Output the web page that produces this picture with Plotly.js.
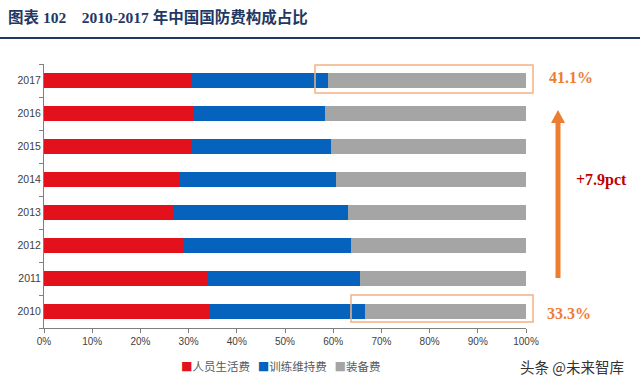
<!DOCTYPE html>
<html><head><meta charset="utf-8">
<script src="https://cdn.plot.ly/plotly-3.0.1.min.js"></script>
<style>html,body{margin:0;padding:0;background:#fff}#chart{width:640px;height:388px}</style>
</head><body><div id="chart"></div>
<script>
const years = ['2010','2011','2012','2013','2014','2015','2016','2017'];
const personnel = [34.4, 34.1, 29.1, 26.8, 28.3, 30.7, 31.0, 30.5];
const training  = [32.3, 31.4, 34.6, 36.3, 32.3, 28.8, 27.4, 28.4];
const equipment = [33.3, 34.5, 36.3, 36.9, 39.4, 40.5, 41.6, 41.1];
const seriesNames = ['人员生活费', '训练维持费', '装备费'];
const xTicks = [0,10,20,30,40,50,60,70,80,90,100];
const xTickText = xTicks.map(v => v + '%');

const L = 44, R = 526, T = 64, B = 328;
const px = v => (v - L) / (R - L);
const py = v => (B - v) / (B - T);

const colors = ['#E3111B', '#0562BD', '#A5A5A5'];
const vals = [personnel, training, equipment];
const traces = vals.map((arr, i) => ({
  type: 'bar', orientation: 'h', name: seriesNames[i],
  x: arr, y: years, width: 0.46,
  marker: {color: colors[i], line: {width: 0}},
  hoverinfo: 'skip', showlegend: false
}));

const legendText = seriesNames.map((n, i) =>
  `<span style="color:${colors[i]}">■</span>${n}`).join('   ');

const orange = '#ED7D31';
const cjk = 'Noto Sans CJK SC, sans-serif';
const layout = {
  width: 640, height: 388,
  margin: {l: L, r: 640 - R, t: T, b: 388 - B},
  paper_bgcolor: '#fff', plot_bgcolor: '#fff',
  barmode: 'stack', bargap: 0.5,
  showlegend: false,
  title: {
    text: '<b>图表 102　2010-2017 年中国国防费构成占比</b>',
    x: 8/640, xanchor: 'left', xref: 'container',
    y: 1 - 18/388, yanchor: 'middle', yref: 'container',
    font: {family: 'Liberation Serif, Noto Sans CJK SC, serif', size: 15.5, color: '#1F3864'}
  },
  xaxis: {
    range: [0, 100], tickvals: xTicks, ticktext: xTickText,
    showgrid: false, zeroline: false,
    showline: true, linecolor: '#7F7F7F', linewidth: 1,
    ticks: 'outside', ticklen: 4, tickcolor: '#7F7F7F',
    tickfont: {family: 'Liberation Sans, sans-serif', size: 10, color: '#404040'},
    fixedrange: true
  },
  yaxis: {
    type: 'category', categoryorder: 'array', categoryarray: years,
    range: [-0.5, 7.5],
    showgrid: false, zeroline: false,
    showline: true, linecolor: '#7F7F7F', linewidth: 1,
    ticks: 'outside', ticklen: 4, tickcolor: '#7F7F7F', tickson: 'boundaries',
    tickfont: {family: 'Liberation Sans, sans-serif', size: 10.5, color: '#404040'},
    fixedrange: true
  },
  shapes: [
    {type: 'line', xref: 'paper', yref: 'paper', x0: px(0), x1: px(640), y0: py(38), y1: py(38),
     line: {color: '#1F3864', width: 2}},
    {type: 'rect', xref: 'paper', yref: 'paper', x0: px(315), x1: px(533), y0: py(65), y1: py(93),
     line: {color: '#F4B183', width: 1.5}, fillcolor: 'rgba(0,0,0,0)'},
    {type: 'rect', xref: 'paper', yref: 'paper', x0: px(351), x1: px(533), y0: py(295), y1: py(322),
     line: {color: '#F4B183', width: 1.5}, fillcolor: 'rgba(0,0,0,0)'},
    {type: 'line', xref: 'paper', yref: 'paper', x0: px(558), x1: px(558), y0: py(278), y1: py(122),
     line: {color: orange, width: 5}},
    {type: 'path', xref: 'paper', yref: 'paper',
     path: `M ${px(551)} ${py(123)} L ${px(565)} ${py(123)} L ${px(558)} ${py(110)} Z`,
     fillcolor: orange, line: {color: orange, width: 0}}
  ],
  annotations: [
    {xref: 'paper', yref: 'paper', x: px(571), y: py(78), xanchor: 'center', yanchor: 'middle',
     text: '<b>41.1%</b>', showarrow: false,
     font: {family: 'Liberation Serif, serif', size: 16, color: orange}},
    {xref: 'paper', yref: 'paper', x: px(569), y: py(313), xanchor: 'center', yanchor: 'middle',
     text: '<b>33.3%</b>', showarrow: false,
     font: {family: 'Liberation Serif, serif', size: 16, color: orange}},
    {xref: 'paper', yref: 'paper', x: px(601), y: py(180), xanchor: 'center', yanchor: 'middle',
     text: '<b>+7.9pct</b>', showarrow: false,
     font: {family: 'Liberation Serif, serif', size: 16, color: '#C00000'}},
    {xref: 'paper', yref: 'paper', x: px(280), y: py(366), xanchor: 'center', yanchor: 'middle',
     text: legendText, showarrow: false,
     font: {family: cjk, size: 11.5, color: '#595959'}},
    {xref: 'paper', yref: 'paper', x: px(572), y: py(366), xanchor: 'center', yanchor: 'middle',
     text: '头条 @未来智库', showarrow: false,
     font: {family: cjk, size: 14.5, color: '#333333'}}
  ]
};

Plotly.newPlot('chart', traces, layout, {displayModeBar: false, staticPlot: true});
</script>
</body></html>
